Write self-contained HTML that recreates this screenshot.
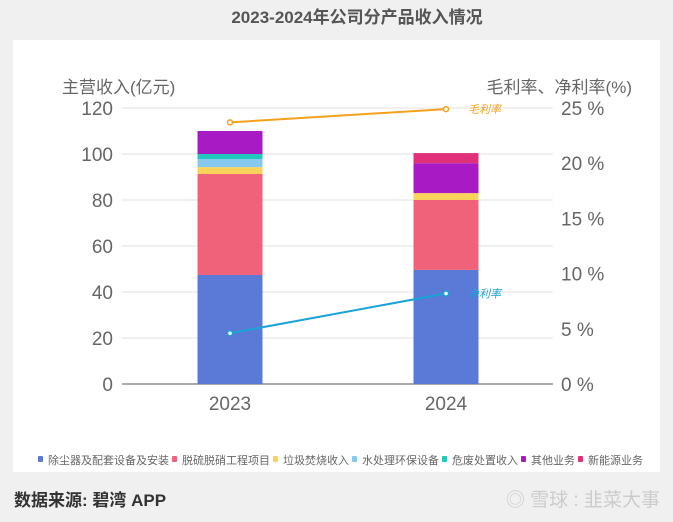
<!DOCTYPE html>
<html><head><meta charset="utf-8">
<style>
body{margin:0;width:673px;height:522px;background:#f0f0f0;overflow:hidden;font-family:"Liberation Sans","Noto Sans CJK SC",sans-serif;}
svg{display:block}
</style></head>
<body>
<svg id="chart" width="673" height="522">
<text x="357" y="23" text-anchor="middle" font-size="17" font-weight="bold" fill="#555">2023-2024年公司分产品收入情况</text>
<rect x="13" y="40" width="647" height="432" fill="#fff"/>
<text x="62" y="93" font-size="17" fill="#666">主营收入(亿元)</text>
<text x="632" y="93" text-anchor="end" font-size="17" fill="#666">毛利率、净利率(%)</text>
<g id="grid"></g><g id="bars"></g><g id="lines"></g><g id="legend"></g>
<text x="14" y="506" font-size="17" font-weight="bold" fill="#333">数据来源: 碧湾 APP</text>
<text x="660" y="506" text-anchor="end" font-size="19" fill="#ccc">◎ 雪球 : 韭菜大事</text>
</svg>
<script>
const years=['2023','2024'];
const seriesNames=['除尘器及配套设备及安装','脱硫脱硝工程项目','垃圾焚烧收入','水处理环保设备','危废处置收入','其他业务','新能源业务'];
const seriesColors=['#5b79d6','#f0627a','#fbd35a','#87c8ee','#22c7bd','#a81bc4','#e0307a'];
const s2023=[47.4,43.9,3.0,3.5,2.2,10.0,0];
const s2024=[49.6,30.4,3.0,0,0,13.0,4.4];
const grossMargin=[23.7,24.9];
const netMargin=[4.6,8.2];
const leftTicks=[0,20,40,60,80,100,120];
const rightTicks=[0,5,10,15,20,25];
const NS='http://www.w3.org/2000/svg';
const y0=384,pxU=2.3;
const yL=v=>y0-v*pxU;
const yR=v=>y0-v*(276/25);
const xC=i=>230+i*216;
function mk(tag,attrs,parent,txt){const e=document.createElementNS(NS,tag);for(const k in attrs)e.setAttribute(k,attrs[k]);if(txt!=null)e.textContent=txt;parent.appendChild(e);return e;}
const grid=document.getElementById('grid');
leftTicks.forEach(t=>{
  const l=mk('line',{x1:122,x2:553,y1:yL(t),y2:yL(t),stroke:t===0?'#777':'#e2e2e2','stroke-width':t===0?1.3:1},grid);
  
  
  const tx=mk('text',{x:113,y:yL(t)+7,'text-anchor':'end','font-size':19,fill:'#666'},grid,String(t));
  
  
});
rightTicks.forEach(t=>{
  const tx=mk('text',{x:561,y:yR(t)+7,'font-size':19,fill:'#666'},grid,t+' %');
  
  
});
years.forEach((y,i)=>{
  const tx=mk('text',{x:xC(i),y:410,'text-anchor':'middle','font-size':19,fill:'#666'},grid,y);
  
  
});
const bars=document.getElementById('bars');
[s2023,s2024].forEach((vals,i)=>{
  let acc=0;
  vals.forEach((v,k)=>{
    if(v<=0)return;
    const r=mk('rect',{x:xC(i)-32.5,width:65,y:yL(acc+v),height:v*pxU,fill:seriesColors[k]},bars);
    
    
    acc+=v;
  });
});
const lines=document.getElementById('lines');
function drawLine(vals,color,label){
  const pl=mk('polyline',{points:vals.map((v,i)=>xC(i)+','+yR(v)).join(' '),fill:'none',stroke:color,'stroke-width':2},lines);
  
  
  vals.forEach((v,i)=>{
    const c=mk('circle',{cx:xC(i),cy:yR(v),r:2.5,fill:'#fff',stroke:color,'stroke-width':1.5},lines);
    
    
  });
  const n=vals.length-1;
  const t=mk('text',{x:xC(n)+22,y:yR(vals[n])+4,'font-size':11,'font-style':'italic',fill:color},lines,label);
  
  
}
drawLine(grossMargin,'#f5a11c','毛利率');
drawLine(netMargin,'#1aa3d6','净利率');
const lg=document.getElementById('legend');
let lx=38;
seriesNames.forEach((n,k)=>{
  const r=mk('rect',{x:lx,y:456,width:5,height:6,rx:1,fill:seriesColors[k]},lg);
  
  
  const t=mk('text',{x:lx+10,y:464,'font-size':11,fill:'#666'},lg,n);
  
  
  lx+=10+n.length*11+3;
});
</script>
</body></html>
